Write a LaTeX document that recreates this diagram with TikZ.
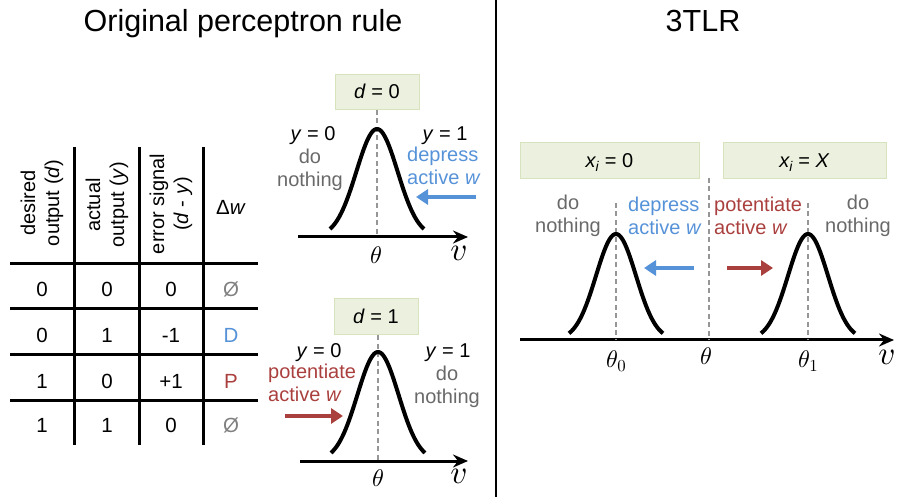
\documentclass[tikz,border=0pt]{standalone}
\usepackage[no-math]{fontspec}
\setmainfont{Liberation Sans}
\DeclareFontShape{OML}{cmm}{m}{it}{<->cmmi10}{}
\DeclareFontShape{OT1}{cmr}{m}{n}{<->cmr10}{}
\usetikzlibrary{arrows.meta}
\definecolor{dblue}{RGB}{86,146,216}
\definecolor{dred}{RGB}{170,64,62}
\definecolor{tgray}{RGB}{105,105,105}
\definecolor{egray}{RGB}{128,128,128}
\definecolor{boxfill}{RGB}{235,241,222}
\definecolor{boxdraw}{RGB}{214,227,188}
\definecolor{dashgray}{RGB}{150,150,150}
\begin{document}
\begin{tikzpicture}[x=1pt,y=-1pt,
  lbl/.style={font=\fontsize{20}{23}\selectfont, inner sep=0pt, align=center},
  lbll/.style={font=\fontsize{20}{23}\selectfont, inner sep=0pt, align=left, anchor=west},
  title/.style={font=\fontsize{30.5}{34}\selectfont, inner sep=0pt, anchor=base},
  hdr/.style={font=\fontsize{20}{24}\selectfont, inner sep=0pt, align=center, rotate=90},
  num/.style={font=\fontsize{20.5}{24}\selectfont, inner sep=0pt, anchor=base},
  tline/.style={line width=3pt},
  condbox/.style={fill=boxfill, draw=boxdraw, line width=1pt, inner sep=0pt,
     text height=14pt, text depth=0pt, font=\fontsize{20}{23}\selectfont},
  dashv/.style={draw=dashgray, line width=2pt, dash pattern=on 5pt off 3.5pt},
  axis/.style={line width=3pt, -{Stealth[length=15pt,width=13pt,inset=5pt]}},
  curve/.style={line width=4pt},
  bigarrow/.style={line width=4pt, -{Triangle[length=12pt,width=15pt]}},
  th/.style={font=\fontsize{24}{28}\selectfont, inner sep=0pt},
  vv/.style={font=\fontsize{33}{36}\selectfont, inner sep=0pt}
]
\useasboundingbox (0,0) rectangle (898,497);

% divider and titles
\coordinate (divtop) at (496,0);
\coordinate (divbot) at (496,497);
\draw[line width=1.5pt] (divtop) -- (divbot);
\node[title] (t1) at (243,32) {Original perceptron rule};
\node[title] (t2) at (703,32) {3TLR};

% ---------- table ----------
\foreach \x/\n in {74/a,139/b,203/c} {
  \coordinate (vt\n) at (\x,147);
  \coordinate (vb\n) at (\x,445);
  \draw[tline] (vt\n) -- (vb\n);
}
\foreach \y/\n in {264/a,309/b,355/c,401/d} {
  \coordinate (hl\n) at (10,\y);
  \coordinate (hr\n) at (258,\y);
  \draw[tline] (hl\n) -- (hr\n);
}
\node[hdr] (h1) at (42,203) {desired\\output (\textit{d})};
\node[hdr] (h2) at (107,205) {actual\\output (\textit{y})};
\node[hdr] (h3) at (171,204) {error signal\\(\textit{d} - \textit{y})};
\node[lbl, font=\fontsize{20.5}{24}\selectfont] (h4) at (231,207) {Δ\textit{w}};

\node[num] (r1a) at (42,296.5) {0};
\node[num] (r1b) at (107,296.5) {0};
\node[num] (r1c) at (171,296.5) {0};
\node[num, text=egray] (r1d) at (231,296.5) {Ø};
\node[num] (r2a) at (42,342.5) {0};
\node[num] (r2b) at (107,342.5) {1};
\node[num] (r2c) at (171,342.5) {-1};
\node[num, text=dblue] (r2d) at (231,342.5) {D};
\node[num] (r3a) at (42,388.5) {1};
\node[num] (r3b) at (107,388.5) {0};
\node[num] (r3c) at (171,388.5) {+1};
\node[num, text=dred] (r3d) at (231,388.5) {P};
\node[num] (r4a) at (42,432.5) {1};
\node[num] (r4b) at (107,432.5) {1};
\node[num] (r4c) at (171,432.5) {0};
\node[num, text=egray] (r4d) at (231,432.5) {Ø};

% ---------- d = 0 plot ----------
\node[condbox, minimum width=84pt, minimum height=35pt] (d0) at (377,92) {\textit{d} = 0};
\coordinate (d0ax) at (377,237);
\draw[dashv] (d0.south) -- (d0ax);
\coordinate (a1s) at (298,237);
\coordinate (a1e) at (468,237);
\draw[axis] (a1s) -- (a1e);
\draw[curve] plot[domain=-47:47, samples=90, smooth] ({377+\x},{237-108*exp(-((\x)^2)/850)});
\node[th] (th1) at (376,255) {$\theta$};
\node[vv] (v1) at (459,253) {$v$};
\node[lbl] (y0a) at (313,136) {\textit{y} = 0};
\node[lbl, text=tgray] (dn1) at (310,170) {do\\nothing};
\node[lbl] (y1a) at (445,136) {\textit{y} = 1};
\node[lbll, text=dblue] (dep1) at (407,166) {depress\\active \textit{w}};
\coordinate (ba1s) at (476,197);
\coordinate (ba1e) at (416,197);
\draw[bigarrow, dblue] (ba1s) -- (ba1e);

% ---------- d = 1 plot ----------
\node[condbox, minimum width=84pt, minimum height=36pt] (d1) at (376,317) {\textit{d} = 1};
\coordinate (d1ax) at (378,461);
\draw[dashv] (d1.south -| d1ax) -- (d1ax);
\coordinate (a2s) at (300,461);
\coordinate (a2e) at (468,461);
\draw[axis] (a2s) -- (a2e);
\draw[curve] plot[domain=-47:47, samples=90, smooth] ({378+\x},{461-109*exp(-((\x)^2)/850)});
\node[th] (th2) at (378,478) {$\theta$};
\node[vv] (v2) at (459,476) {$v$};
\node[lbl] (y0b) at (319,353) {\textit{y} = 0};
\node[lbll, text=dred] (pot1) at (268,383) {potentiate\\active \textit{w}};
\coordinate (ra1s) at (285,416);
\coordinate (ra1e) at (343,416);
\draw[bigarrow, dred] (ra1s) -- (ra1e);
\node[lbl] (y1b) at (448,353) {\textit{y} = 1};
\node[lbl, text=tgray] (dn2) at (447,387) {do\\nothing};

% ---------- 3TLR ----------
\node[condbox, minimum width=179pt, minimum height=36pt] (x0) at (609.5,161) {\textit{x\textsubscript{i}} = 0};
\node[condbox, minimum width=163pt, minimum height=36pt] (xX) at (804.5,161) {\textit{x\textsubscript{i}} = \textit{X}};
\coordinate (a3s) at (520,340);
\coordinate (a3e) at (894,340);
\draw[axis] (a3s) -- (a3e);
\coordinate (cdt) at (709,178);
\coordinate (cdb) at (709,340);
\draw[dashv] (cdt) -- (cdb);
\coordinate (ldt) at (616,203);
\coordinate (ldb) at (616,340);
\draw[dashv] (ldt) -- (ldb);
\coordinate (rdt) at (808,203);
\coordinate (rdb) at (808,340);
\draw[dashv] (rdt) -- (rdb);
\draw[curve] plot[domain=-47:47, samples=90, smooth] ({616+\x},{340-106*exp(-((\x)^2)/800)});
\draw[curve] plot[domain=-47:47, samples=90, smooth] ({808+\x},{340-106*exp(-((\x)^2)/800)});
\node[th, anchor=west] (th0) at (606,361) {$\theta_0$};
\node[th] (thm) at (706,356) {$\theta$};
\node[th, anchor=west] (th1r) at (798,361) {$\theta_1$};
\node[vv] (v3) at (887,357) {$v$};
\node[lbl, text=tgray] (dn3) at (568,216) {do\\nothing};
\node[lbll, text=dblue] (dep2) at (628,216) {depress\\active \textit{w}};
\node[lbll, text=dred] (pot2) at (714,216) {potentiate\\active \textit{w}};
\node[lbl, text=tgray] (dn4) at (858,216) {do\\nothing};
\coordinate (ba2s) at (694,268);
\coordinate (ba2e) at (644,268);
\draw[bigarrow, dblue] (ba2s) -- (ba2e);
\coordinate (ra2s) at (727,268);
\coordinate (ra2e) at (773,268);
\draw[bigarrow, dred] (ra2s) -- (ra2e);
\end{tikzpicture}
\end{document}
